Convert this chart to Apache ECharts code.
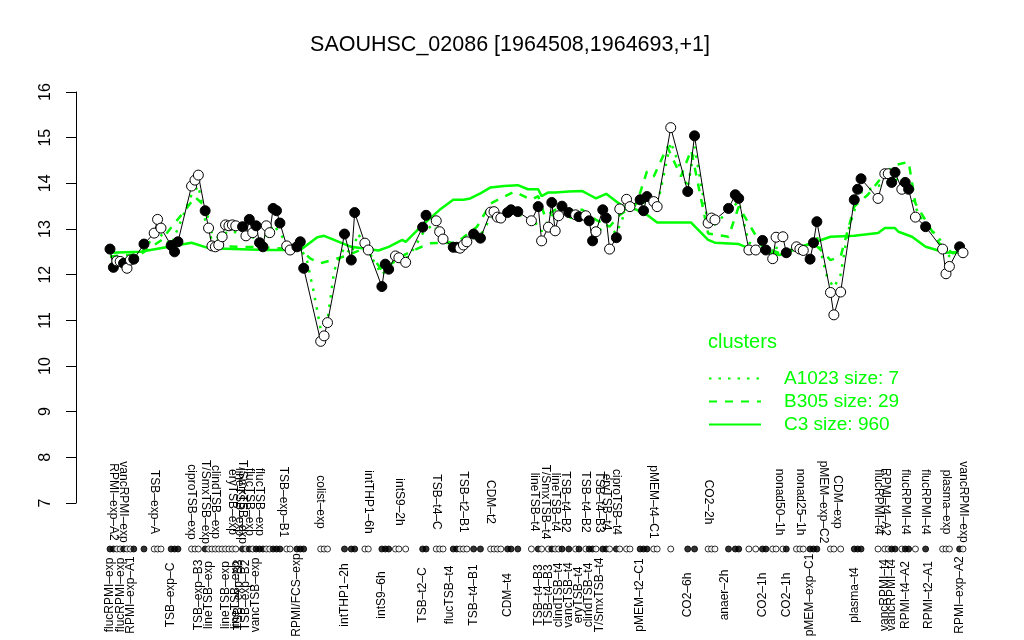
<!DOCTYPE html>
<html>
<head>
<meta charset="utf-8">
<title>SAOUHSC_02086</title>
<script src="https://cdn.jsdelivr.net/npm/echarts@6/dist/echarts.min.js"></script>
<style>
  html, body { margin: 0; padding: 0; background: #fff; }
  #chart { width: 1024px; height: 640px; }
</style>
</head>
<body>
<div id="chart"></div>
<script>
// ============================================
// data
// ============================================
const slotCount = 252

// sample slot on the x axis, expression value, filled (1) or open (0) marker
const samplePos = [0,1,2,3,4,5,6,7,10,13,14,15,18,19,20,24,25,26,28,29,30,31,32,33,34,35,36,37,
  39,40,41,42,43,44,45,46,47,48,49,50,52,53,55,56,57,62,63,64,69,71,72,75,76,80,81,82,84,85,87,
  92,93,96,97,98,101,102,103,104,105,107,109,112,113,114,115,117,118,120,124,126,127,129,130,131,
  132,133,135,137,138,140,141,142,143,145,146,147,149,150,152,153,156,157,158,160,161,165,170,172,
  176,177,178,182,184,185,188,190,192,193,195,196,198,199,202,203,204,206,207,208,212,213,215,219,
  220,221,226,228,229,230,231,233,234,235,237,240,245,246,247,250,251]
const sampleExpr = [12.56,12.16,12.30,12.29,12.25,12.14,12.32,12.34,12.67,12.91,13.21,13.02,12.64,12.50,12.72,
  13.94,14.07,14.18,13.40,13.02,12.63,12.61,12.65,12.83,13.09,13.07,13.09,13.07,
  13.05,12.85,13.21,12.92,13.07,12.70,12.61,13.07,12.92,13.45,13.40,13.13,12.63,12.54,12.61,12.72,12.14,
  10.54,10.66,10.95,12.89,12.32,13.36,12.69,12.54,11.74,12.23,12.12,12.41,12.37,12.27,
  13.04,13.30,13.18,12.94,12.78,12.60,12.60,12.58,12.65,12.72,12.89,12.80,13.37,13.38,13.26,13.24,
  13.36,13.42,13.38,13.18,13.49,12.74,13.04,13.58,12.96,13.29,13.50,13.36,13.31,13.27,13.29,13.18,
  12.74,12.94,13.42,13.24,12.56,12.81,13.44,13.65,13.49,13.64,13.40,13.71,13.60,13.49,15.22,13.82,15.04,
  13.13,13.24,13.20,13.45,13.75,13.67,12.54,12.54,12.75,12.54,12.35,12.82,12.83,12.48,12.61,12.56,12.53,
  12.34,12.70,13.16,11.61,11.12,11.62,13.64,13.87,14.10,13.67,14.21,14.21,14.02,14.24,13.87,14.02,13.87,
  13.26,13.05,12.56,12.02,12.18,12.61,12.48]
const sampleFilled = [1,1,0,0,1,0,0,1,1,0,0,0,1,1,1,0,0,0,1,0,0,0,0,0,0,0,0,0,
  1,0,1,0,1,1,1,0,0,1,1,1,0,0,1,1,1,0,0,0,1,1,1,0,0,1,1,1,0,0,0,
  1,1,0,0,0,1,1,0,0,0,1,1,0,0,0,0,1,1,1,0,1,0,0,1,0,0,1,1,0,1,0,1,
  1,0,1,1,0,1,0,0,0,1,1,1,0,0,0,1,1,
  0,0,0,1,1,1,0,0,1,1,0,0,0,1,0,0,0,1,1,1,0,0,0,1,1,1,0,0,0,1,1,0,1,1,
  0,1,0,0,0,1,0]

// cluster means
const c3Pos = [0,9,24,29,46,56,61,63,71,79,82,86,87,92,97,101,104,106,109,112,116,120,123,126,127,129,
  131,135,139,141,143,146,149,151,155,158,161,171,176,178,185,187,197,207,212,219,226,228,231,232,236,240,246,251]
const c3Val = [12.48,12.50,12.70,12.58,12.54,12.54,12.82,12.85,12.61,12.53,12.61,12.76,12.72,13.09,13.42,13.64,
  13.64,13.67,13.78,13.91,13.94,13.96,13.87,13.87,13.72,13.80,13.80,13.82,13.83,13.75,13.67,13.77,13.60,13.50,
  13.42,13.31,13.14,13.14,12.76,12.70,12.67,12.61,12.43,12.70,12.83,12.85,12.91,13.02,13.02,12.94,12.83,12.61,12.48,12.50]

const b305Pos = [0,9,15,22,25,28,30,33,44,56,59,62,69,74,76,80,84,87,94,102,108,112,115,119,124,126,128,131,
  139,143,147,150,155,158,160,164,168,171,173,176,182,185,192,197,207,212,215,219,223,228,231,235,237,244,248,251]
const b305Val = [12.40,12.45,12.75,13.40,13.70,13.50,12.90,12.62,12.60,12.55,12.35,12.25,12.40,12.55,12.50,
  12.10,12.30,12.45,12.69,12.70,13.05,13.56,13.67,13.82,13.64,13.72,13.27,13.42,13.42,13.20,13.05,13.31,13.56,
  14.26,14.15,14.80,14.15,14.73,14.00,12.90,12.83,13.49,12.61,12.47,12.70,12.32,12.40,13.49,13.75,14.22,14.40,
  14.47,13.56,12.69,12.47,12.50]

const a1023Pos = [0,7,10,14,18,24,26,28,30,35,40,45,48,52,56,58,60,62,64,66,69,71,73,76,80,82,85,88,92,95,98,
  101,105,109,112,118,124,127,130,135,140,143,146,149,152,158,161,165,170,172,176,178,182,185,188,192,195,199,
  204,208,211,213,215,217,219,221,228,231,235,238,245,247,251]
const a1023Val = [12.40,12.30,12.55,12.95,12.65,13.75,13.95,13.20,12.75,12.95,12.90,12.70,13.10,12.70,12.60,
  12.30,11.60,10.80,11.00,12.10,12.60,12.45,12.90,12.50,12.00,12.15,12.30,12.40,12.90,13.10,12.80,12.65,12.70,
  12.85,13.25,13.35,13.25,12.95,13.30,13.25,13.20,12.90,13.10,12.90,13.45,13.60,13.50,14.90,13.90,14.80,13.10,
  13.10,13.40,13.60,12.70,12.55,12.60,12.55,12.60,12.85,11.95,11.72,12.00,12.90,13.40,13.80,14.00,14.10,13.90,
  13.30,12.70,12.40,12.55]

// condition labels, upper and lower row
const topLabelPos = [1,4,13,24,28,31,36,38,39,41,44,51,62,76,85,96,104,112,125,128,131,134,140,144,146,149,
  160,176,197,203,210,214,226,228,234,240,246,251]
const topLabels = ['RPMI\u2013exp\u2013A2','vancRPMI\u2013exp','TSB\u2013exp\u2013A','ciproTSB\u2013exp',
  'T/SmxTSB\u2013exp','clindTSB\u2013exp','eryTSB\u2013exp','lineTSB\u2013exp','T/SmxTSB\u2013exp',
  'flucTSB\u2013exp','flucTSB\u2013exp','TSB\u2013exp\u2013B1','colist\u2013exp','intTHP1\u20136h',
  'intS9\u20132h','TSB\u2013t4\u2013C','TSB\u2013t2\u2013B1','CDM\u2013t2','lineTSB\u2013t4','T/SmxTSB\u2013t4',
  'lineTSB\u2013t4','TSB\u2013t4\u2013B2','TSB\u2013t4\u2013B2','TSB\u2013t4\u2013B3','eryTSB\u2013t4',
  'ciproTSB\u2013t4','pMEM\u2013t4\u2013C1','CO2\u20132h','nonad50\u20131h','nonad25\u20131h',
  'pMEM\u2013exp\u2013C2','CDM\u2013exp','flucRPMI\u2013t4','RPMI\u2013t4\u2013A2','flucRPMI\u2013t4',
  'flucRPMI\u2013t4','plasma\u2013exp','vancRPMI\u2013exp']
const bottomLabelPos = [0,3,6,18,26,29,34,37,38,40,43,55,69,80,92,100,107,117,126,129,132,135,138,141,144,
  156,170,181,192,199,206,219,228,230,234,241,250]
const bottomLabels = ['flucRPMI\u2013exp','flucRPMI\u2013exp','RPMI\u2013exp\u2013A1','TSB\u2013exp\u2013C',
  'TSB\u2013exp\u2013B3','lineTSB\u2013exp','lineTSB\u2013exp','lineTSB\u2013exp','TSB\u2013exp\u2013B3',
  'TSB\u2013exp\u2013B2','vancTSB\u2013exp','RPMI/FCS\u2013exp','intTHP1\u20132h','intS9\u20136h',
  'TSB\u2013t2\u2013C','flucTSB\u2013t4','TSB\u2013t4\u2013B1','CDM\u2013t4','TSB\u2013t4\u2013B3',
  'TSB\u2013t4\u2013B3','clindTSB\u2013t4','vancTSB\u2013t4','eryTSB\u2013t4','clindTSB\u2013t4',
  'T/SmxTSB\u2013t4','pMEM\u2013t2\u2013C1','CO2\u20136h','anaer\u20132h','CO2\u20131h','CO2\u20131h',
  'pMEM\u2013exp\u2013C1','plasma\u2013t4','vancRPMI\u2013t4','vancRPMI\u2013t4','RPMI\u2013t4\u2013A2',
  'RPMI\u2013t2\u2013A1','RPMI\u2013exp\u2013A2']

const yTicks = [7, 8, 9, 10, 11, 12, 13, 14, 15, 16]

// ============================================
// build
// ============================================
const green = '#00FF00'
const font = "'Liberation Sans', Arial, Helvetica, sans-serif"
const slots = Array.from({ length: slotCount }, (_, i) => String(i))

const topMap = {}
topLabelPos.forEach((p, i) => { topMap[p] = topLabels[i] })
const bottomMap = {}
bottomLabelPos.forEach((p, i) => { bottomMap[p] = bottomLabels[i] })

const pairs = (pos, val) => pos.map((p, i) => [p, val[i]])

const pointData = samplePos.map((p, i) => ({
  value: [p, sampleExpr[i]],
  itemStyle: { color: sampleFilled[i] ? '#000' : '#fff' }
}))
const rugData = samplePos.map((p, i) => ({
  value: [p, 0],
  itemStyle: { color: sampleFilled[i] ? '#000' : '#fff' }
}))

const chart = echarts.init(document.getElementById('chart'), null, { renderer: 'canvas' })

chart.setOption({
  animation: false,
  backgroundColor: '#fff',
  textStyle: { fontFamily: font },
  title: [
    {
      text: 'SAOUHSC_02086 [1964508,1964693,+1]',
      left: 510,
      top: 34,
      padding: 0,
      textAlign: 'center',
      textStyle: { fontSize: 21.5, fontWeight: 'normal', color: '#000', fontFamily: font }
    },
    {
      text: 'clusters',
      left: 708,
      top: 332,
      padding: 0,
      textStyle: { fontSize: 20, fontWeight: 'normal', color: green, fontFamily: font }
    }
  ],
  legend: {
    orient: 'vertical',
    left: 708,
    top: 369,
    padding: 0,
    itemWidth: 52,
    itemHeight: 14,
    itemGap: 4,
    itemStyle: { opacity: 0 },
    data: ['A1023 size: 7', 'B305 size: 29', 'C3 size: 960'],
    textStyle: { fontSize: 19, color: green, fontFamily: font, padding: [0, 0, 0, 18] }
  },
  grid: [
    { left: 110, right: 61, top: 92, bottom: 137 },
    { left: 110, right: 61, top: 544, height: 10 }
  ],
  xAxis: [
    { type: 'category', gridIndex: 0, data: slots, boundaryGap: false, show: false },
    {
      type: 'category', gridIndex: 1, data: slots, boundaryGap: false, position: 'bottom',
      axisLine: { show: false }, axisTick: { show: false }, splitLine: { show: false },
      axisLabel: {
        interval: 0, rotate: 90, margin: 41, align: 'center', verticalAlign: 'middle',
        fontSize: 12, color: '#000', fontFamily: font,
        formatter: (v, idx) => bottomMap[idx] || ''
      }
    },
    {
      type: 'category', gridIndex: 1, data: slots, boundaryGap: false, position: 'top',
      axisLine: { show: false }, axisTick: { show: false }, splitLine: { show: false },
      axisLabel: {
        interval: 0, rotate: 90, margin: 42, align: 'center', verticalAlign: 'middle',
        fontSize: 12, color: '#000', fontFamily: font,
        formatter: (v, idx) => topMap[idx] || ''
      }
    }
  ],
  yAxis: [
    {
      type: 'value', gridIndex: 0, min: yTicks[0], max: yTicks[yTicks.length - 1], interval: 1,
      offset: 34,
      axisLine: { show: true, lineStyle: { color: '#000', width: 1 } },
      axisTick: { show: true, length: 10, lineStyle: { color: '#000' } },
      splitLine: { show: false },
      axisLabel: {
        rotate: 90, margin: 30, align: 'center', verticalAlign: 'middle',
        fontSize: 16, color: '#000', fontFamily: font
      }
    },
    { type: 'value', gridIndex: 1, min: -1, max: 1, show: false }
  ],
  series: [
    {
      name: 'C3 size: 960', type: 'line', xAxisIndex: 0, yAxisIndex: 0,
      data: pairs(c3Pos, c3Val), symbol: 'none', z: 2,
      lineStyle: { color: green, width: 2.5 }, itemStyle: { color: green }
    },
    {
      name: 'B305 size: 29', type: 'line', xAxisIndex: 0, yAxisIndex: 0,
      data: pairs(b305Pos, b305Val), symbol: 'none', z: 2,
      lineStyle: { color: green, width: 2.5, type: [8, 8] }, itemStyle: { color: green }
    },
    {
      name: 'A1023 size: 7', type: 'line', xAxisIndex: 0, yAxisIndex: 0,
      data: pairs(a1023Pos, a1023Val), symbol: 'none', z: 2,
      lineStyle: { color: green, width: 2.5, type: [2.5, 7] }, itemStyle: { color: green }
    },
    {
      name: 'expr', type: 'line', xAxisIndex: 0, yAxisIndex: 0,
      data: pointData, symbol: 'circle', symbolSize: 10, showAllSymbol: true, z: 5,
      lineStyle: { color: '#000', width: 1 },
      itemStyle: { borderColor: '#000', borderWidth: 1 }
    },
    {
      name: 'rug', type: 'scatter', xAxisIndex: 1, yAxisIndex: 1,
      data: rugData, symbol: 'circle', symbolSize: 6,
      itemStyle: { borderColor: '#000', borderWidth: 1 }
    }
  ]
})
</script>
</body>
</html>
